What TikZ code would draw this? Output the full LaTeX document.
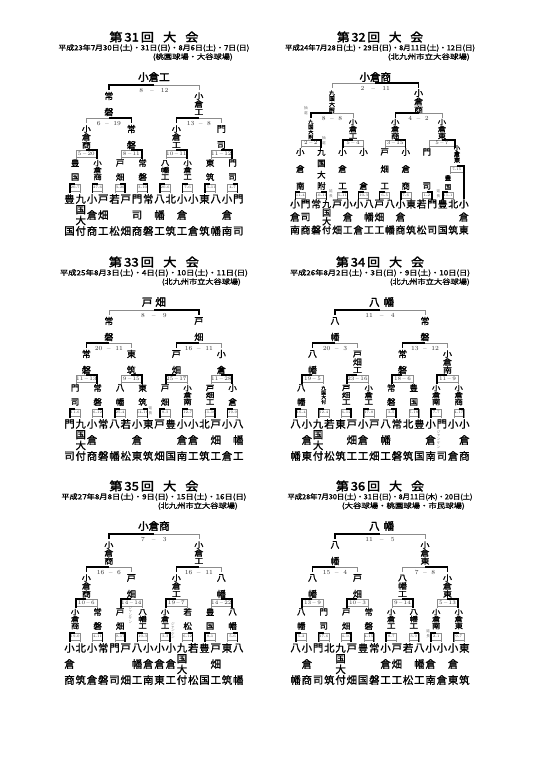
\documentclass[tikz,border=0pt]{standalone}
\usepackage{fontspec}
\usepackage{graphicx}
\newfontfamily\jp{Noto Sans CJK JP}
\newfontfamily\jpb{Noto Sans CJK JP}[FakeBold=1.2]
\newfontfamily\jpB{Noto Sans CJK JP}[FakeBold=2.4]
\newcommand\ScoF[2]{#1\hspace{7pt}--\hspace{7pt}#2}
\newcommand\ScoS[2]{#1\hspace{4.5pt}--\hspace{4.5pt}#2}
\newcommand\ScoQ[2]{#1\hspace{1.2pt}--\hspace{1.2pt}#2}
\newcommand\ScoR[2]{#1-#2}
\tikzset{
  lose/.style={draw=black!45,line width=0.45pt},
  win/.style={draw=black,line width=1.5pt},
  nmbase/.style={inner sep=0pt,text=black},
  nB/.style={nmbase,font=\jpb\fontsize{10.4}{10.4}\selectfont},
  nBs/.style={nmbase,font=\jpb\fontsize{9.8}{9.8}\selectfont},
  nM/.style={nmbase,font=\jpb\fontsize{9}{9}\selectfont},
  nS/.style={nmbase,font=\jpb\fontsize{8.4}{8.4}\selectfont},
  nX/.style={nmbase,font=\jpb\fontsize{6.4}{6.4}\selectfont},
  anno/.style={nmbase,text=black!55,font=\jp\fontsize{3.6}{3.6}\selectfont},
  scF/.style={inner sep=0pt,text=black!80,font=\fontsize{6.2}{6.2}\selectfont},
  scQ/.style={inner sep=0pt,text=black!80,font=\fontsize{5.3}{5.3}\selectfont},
  scR/.style={inner sep=0pt,text=black!75,font=\fontsize{3.6}{3.6}\selectfont},
  ttl/.style={inner sep=0pt,font=\jpB},
  champ/.style={inner sep=0pt,font=\jpB\fontsize{10.5}{10.5}\selectfont},
  info/.style={inner sep=0pt,font=\jpb},
}
\makeatletter
\newcommand\VNbox[1]{%
  \ifnum\VNn=4
    \pgfmathsetmacro\VNs{min(1,\VNsp/(\f@size*0.97))}\scalebox{\VNs}{#1}%
  \else\ifnum\VNn=3
    \pgfmathsetmacro\VNys{min(1,\VNsp/(\f@size*1.0))}\scalebox{1}[\VNys]{#1}%
  \else #1\fi\fi}
\makeatother
% vertical name: style, id, x, ytop, ybot, chars
\newcommand\VN[6]{%
  \edef\VNlist{#6}%
  \gdef\VNn{0}%
  \foreach \c in \VNlist {\xdef\VNn{\the\numexpr\VNn+1\relax}}%
  \pgfmathsetmacro\VNsp{(#5-#4)/max(\VNn-1,1)}%
  \foreach \c [count=\i from 0] in \VNlist {%
    \pgfmathsetmacro\VNy{#4+\VNsp*\i}%
    \node[#1] (#2-\i) at (#3,\VNy) {\VNbox{\c}};}}
% row of names: style, id, x0, dx, ytop, ybot, list
\newcommand\NRow[7]{%
  \edef\NRlist{#7}%
  \foreach \nmx [count=\k from 0] in \NRlist {%
    \pgfmathsetmacro\NRx{#3+#4*\k}%
    \VN{#1}{#2\k}{\NRx}{#5}{#6}{\nmx}}}
% score box: id, xc, ytop, w, h, score, side, style
\newcommand\BX[8]{%
  \pgfmathsetmacro\BXl{#2-#4/2}\pgfmathsetmacro\BXr{#2+#4/2}%
  \pgfmathsetmacro\BXb{#3+#5}\pgfmathsetmacro\BXg{#3+#5+1.6}%
  \draw[lose] (\BXl,\BXg) -- (\BXl,#3) -- (\BXr,#3) -- (\BXr,\BXg) (\BXl,\BXb) -- (\BXr,\BXb);
  \if#7L\draw[win] (\BXl,\BXg) -- (\BXl,#3) -- (#2,#3);\else\draw[win] (#2,#3) -- (\BXr,#3) -- (\BXr,\BXg);\fi
  \node[#8] (#1) at (#2,{#3+#5/2}) {#6};}
% open bracket: id, xL, xR, y, drop, score, side, style
\newcommand\BL[8]{%
  \pgfmathsetmacro\BLm{(#2+#3)/2}\pgfmathsetmacro\BLd{#4+#5}%
  \draw[lose] (#2,\BLd) -- (#2,#4) -- (#3,#4) -- (#3,\BLd);
  \if#7L\draw[win] (#2,\BLd) -- (#2,#4) -- (\BLm,#4);\else\draw[win] (\BLm,#4) -- (#3,#4) -- (#3,\BLd);\fi
  \node[#8] (#1) at (\BLm,{#4+5.5}) {#6};}
\newcommand\BRowR[7]{%
  \foreach \sa/\sb/\sw [count=\k from 0] in {#7}{%
    \pgfmathsetmacro\BRx{#2+#3*\k}%
    \BX{#1\k}{\BRx}{#4}{#5}{#6}{\ScoR{\sa}{\sb}}{\sw}{scR}}}
\newcommand\BRowQ[7]{%
  \foreach \sa/\sb/\sw [count=\k from 0] in {#7}{%
    \pgfmathsetmacro\BRx{#2+#3*\k}%
    \BX{#1\k}{\BRx}{#4}{#5}{#6}{\ScoQ{\sa}{\sb}}{\sw}{scQ}}}
\newcommand\AN[5]{\VN{anno}{#1}{#2}{#3}{#4}{#5}}
\newcommand\TT[1]{第\hspace{.15em}#1\hspace{.15em}回\hspace{.7em}大\hspace{.7em}会}

\begin{document}
\begin{tikzpicture}[x=1pt,y=-1pt]
\useasboundingbox (0,0) rectangle (538,760);
\fill[white] (0,0) rectangle (538,760);

%================ 31
\begin{scope}[shift={(69.5,37)}]
\node[ttl] (t31) at (84.4,0) {\resizebox{89pt}{10pt}{\TT{31}}};
\node[info] (d31) at (84.4,11) {\resizebox{191pt}{6pt}{平成23年7月30日(土)・31日(日)・8月6日(土)・7日(日)}};
\node[info,anchor=east] (u31) at (163.5,20) {\resizebox{80pt}{6pt}{(桃園球場・大谷球場)}};
\node[champ] (c31) at (84.4,40) {小倉工};
\BL{f31}{39.375}{129.375}{48}{5}{\ScoF{8}{12}}{L}{scF}
\VN{nM}{e31a}{39.375}{59}{75}{常,磐}
\VN{nM}{e31b}{129.375}{59}{75}{小,倉,工}
\BL{s31a}{16.875}{61.875}{81}{5}{\ScoS{6}{19}}{R}{scF}
\BL{s31b}{106.875}{151.875}{81}{5}{\ScoS{13}{8}}{L}{scF}
\NRow{nM}{h31}{16.875}{45}{92}{108}{{小,倉,商},{常,磐},{小,倉,工},{門,司}}
\BRowQ{q31}{16.875}{45}{113}{21}{7}{5/20/R,8/11/R,10/11/R,11/12/R}
\NRow{nS}{g31}{5.625}{22.5}{126}{140}{{豊,国},{小,倉,商},{戸,畑},{常,磐},{八,幡,工},{小,倉,工},{東,筑},{門,司}}
\BRowR{r31}{5.625}{22.5}{147}{10}{7}{20/7/L,27/6/L,3/20/R,3/10/R,20/6/L,7/6/L,15/11/L,4/7/R}
\NRow{nB}{k31}{0}{11.25}{162}{194}{{豊,国},{九,国,大,付},{小,倉,商},{戸,畑,工},{若,松},{戸,畑},{門,司,商},{常,磐},{八,幡,工},{北,筑},{小,倉,工},{小,倉},{東,筑},{八,幡},{小,倉,南},{門,司}}
\end{scope}

%================ 32
\begin{scope}[shift={(295,37)}]
\node[ttl] (t32) at (85,0) {\resizebox{86pt}{10pt}{\TT{32}}};
\node[info] (d32) at (85,11) {\resizebox{190pt}{6pt}{平成24年7月28日(土)・29日(日)・8月11日(土)・12日(日)}};
\node[info,anchor=east] (u32) at (175,20) {\resizebox{82pt}{6pt}{(北九州市立大谷球場)}};
\node[champ] (c32) at (80.3,40) {小倉商};
\BL{f32}{36.95}{123.6}{46}{5}{\ScoF{2}{11}}{R}{scF}
\VN{nM}{e32a}{36.95}{56}{73}{九,国,大,附}
\VN{nM}{e32b}{123.6}{56}{73}{小,倉,商}
\BL{s32a}{15.85}{58.05}{76}{5}{\ScoS{8}{8}}{L}{scF}
\BL{s32b}{100.25}{146.95}{76}{5}{\ScoS{4}{2}}{L}{scF}
\AN{a32a}{11}{71}{76.5}{抽,選}
\VN{nS}{h32a}{15.85}{85}{100}{九,国,大,附}
\VN{nS}{h32b}{58.05}{85}{99}{小,倉,工}
\VN{nS}{h32c}{100.25}{85}{99}{小,倉,商}
\VN{nS}{h32d}{146.95}{85}{99}{小,倉,東}
\BRowQ{q32}{15.85}{42.2}{103}{20}{6}{2/2/R,5/4/L,3/15/R}
\BX{q32d}{146.95}{103}{26}{6}{\ScoQ{5}{7}}{R}{scQ}
\AN{a32b}{29}{101}{106.5}{抽,選}
\NRow{nS}{g32}{5.275}{21.1}{115}{149}{{小,倉,南},{九,国,大,附},{小,倉,工},{小,倉},{戸,畑,工},{小,倉,商},{門,司}}
\VN{nX}{g32h}{162}{111}{123}{小,倉,東}
\BX{v32}{161.8}{129}{14}{6}{\ScoR{7}{15}}{R}{scR}
\draw[win] (168.8,136) -- (168.8,162);
\VN{nX}{g32i}{153}{141}{150}{豊,国}
\BRowR{r32}{5.275}{21.1}{155}{10}{6}{11/4/L,10/11/R,5/11/R,10/3/L,6/5/L,7/6/L,1/2/R,11/1/L}
\AN{a32c}{36}{154}{159.5}{延,長}
\AN{a32d}{143.5}{154}{159.5}{延,長}
\NRow{nBs}{k32}{0}{10.55}{167}{193}{{小,倉,南},{門,司,商},{常,磐},{九,国,大,付},{戸,畑},{小,倉,工},{小,倉},{八,幡,工},{戸,畑,工},{八,幡},{小,倉,商},{東,筑},{若,松},{門,司},{豊,国},{北,筑},{小,倉,東}}
\end{scope}

%================ 33
\begin{scope}[shift={(69.5,262)}]
\node[ttl] (t33) at (84.4,0) {\resizebox{90pt}{10pt}{\TT{33}}};
\node[info] (d33) at (84.4,11) {\resizebox{188pt}{6pt}{平成25年8月3日(土)・4日(日)・10日(土)・11日(日)}};
\node[info,anchor=east] (u33) at (171.5,20) {\resizebox{79pt}{6pt}{(北九州市立大谷球場)}};
\node[champ] (c33) at (84.4,40) {戸\hspace{3pt}畑};
\BL{f33}{39.375}{129.375}{48}{5}{\ScoF{8}{9}}{R}{scF}
\VN{nM}{e33a}{39.375}{59}{75}{常,磐}
\VN{nM}{e33b}{129.375}{59}{75}{戸,畑}
\BL{s33a}{16.875}{61.875}{81}{5}{\ScoS{20}{11}}{L}{scF}
\BL{s33b}{106.875}{151.875}{81}{5}{\ScoS{16}{11}}{L}{scF}
\NRow{nM}{h33}{16.875}{45}{92}{108}{{常,磐},{東,筑},{戸,畑},{小,倉}}
\BRowQ{q33}{16.875}{45}{113}{21}{7}{11/13/R,9/15/R,25/17/L,11/28/R}
\NRow{nS}{g33}{5.625}{22.5}{126}{140}{{門,司},{常,磐},{八,幡},{東,筑},{戸,畑},{小,倉,南},{戸,畑,工},{小,倉}}
\BRowR{r33}{5.625}{22.5}{147}{10}{7}{11/6/L,6/12/R,25/4/L,14/16/R,8/3/L,12/7/L,11/16/R,19/9/L}
\AN{a33}{81}{146}{151.5}{延,長}
\NRow{nB}{k33}{0}{11.25}{162}{194}{{門,司},{九,国,大,付},{小,倉,商},{常,磐},{八,幡},{若,松},{小,倉,東},{東,筑},{戸,畑},{豊,国},{小,倉,南},{小,倉,工},{北,筑},{戸,畑,工},{小,倉},{八,幡,工}}
\end{scope}

%================ 34
\begin{scope}[shift={(295.6,262)}]
\node[ttl] (t34) at (84.4,0) {\resizebox{88pt}{10pt}{\TT{34}}};
\node[info] (d34) at (84.4,11) {\resizebox{180pt}{6pt}{平成26年8月2日(土)・3日(日)・9日(土)・10日(日)}};
\node[info,anchor=east] (u34) at (174.4,20) {\resizebox{80pt}{6pt}{(北九州市立大谷球場)}};
\node[champ] (c34) at (86,40) {八\hspace{4pt}幡};
\BL{f34}{39.375}{129.375}{48}{5}{\ScoF{11}{4}}{L}{scF}
\VN{nM}{e34a}{39.375}{59}{75}{八,幡}
\VN{nM}{e34b}{129.375}{59}{75}{常,磐}
\BL{s34a}{16.875}{61.875}{81}{5}{\ScoS{20}{3}}{L}{scF}
\BL{s34b}{106.875}{151.875}{81}{5}{\ScoS{13}{12}}{L}{scF}
\NRow{nM}{h34}{16.875}{45}{92}{108}{{八,幡},{戸,畑,工},{常,磐},{小,倉,南}}
\BRowQ{q34}{16.875}{45}{113}{21}{7}{19/5/L,23/16/L,18/6/L,11/9/L}
\NRow{nS}{g34}{5.625}{22.5}{126}{140}{{八,幡},{九,国,大,付},{戸,畑,工},{小,倉,工},{常,磐},{豊,国},{小,倉,南},{小,倉,商}}
\BRowR{r34}{5.625}{22.5}{147}{10}{7}{16/4/L,12/4/L,6/12/R,17/8/L,3/5/R,7/18/R,7/7/L,4/17/R}
\AN{a34}{143}{170}{185}{ジ,ャ,ン,ケ,ン}
\NRow{nB}{k34}{0}{11.25}{162}{194}{{八,幡},{小,倉,東},{九,国,大,付},{若,松},{東,筑},{戸,畑,工},{小,倉,工},{戸,畑},{八,幡,工},{常,磐},{北,筑},{豊,国},{小,倉,南},{門,司},{小,倉},{小,倉,商}}
\end{scope}

%================ 35
\begin{scope}[shift={(69.5,486)}]
\node[ttl] (t35) at (84.4,0) {\resizebox{89pt}{10pt}{\TT{35}}};
\node[info] (d35) at (84.4,11) {\resizebox{185pt}{6pt}{平成27年8月8日(土)・9日(日)・15日(土)・16日(日)}};
\node[info,anchor=east] (u35) at (168.5,20) {\resizebox{80pt}{6pt}{(北九州市立大谷球場)}};
\node[champ] (c35) at (84.4,40) {小倉商};
\BL{f35}{39.375}{129.375}{48}{5}{\ScoF{7}{3}}{L}{scF}
\VN{nM}{e35a}{39.375}{59}{75}{小,倉,商}
\VN{nM}{e35b}{129.375}{59}{75}{小,倉,工}
\BL{s35a}{16.875}{61.875}{81}{5}{\ScoS{16}{6}}{L}{scF}
\BL{s35b}{106.875}{151.875}{81}{5}{\ScoS{16}{11}}{L}{scF}
\NRow{nM}{h35}{16.875}{45}{92}{108}{{小,倉,商},{戸,畑},{小,倉,工},{八,幡}}
\BRowQ{q35}{16.875}{45}{113}{21}{7}{10/6/L,14/14/L,19/7/L,14/22/R}
\AN{a35a}{61}{122}{136}{ジ,ャ,ン,ケ,ン}
\NRow{nS}{g35}{5.625}{22.5}{126}{140}{{小,倉,商},{常,磐},{戸,畑},{八,幡,工},{小,倉,工},{若,松},{豊,国},{八,幡}}
\BRowR{r35}{5.625}{22.5}{147}{10}{7}{19/0/L,4/11/R,9/17/R,10/3/L,3/3/R,6/12/R,8/1/L,5/6/R}
\AN{a35b}{103.5}{138}{151}{ジ,ャ,ン,ケ,ン}
\NRow{nB}{k35}{0}{11.25}{162}{194}{{小,倉,商},{北,筑},{小,倉},{常,磐},{門,司},{戸,畑},{八,幡,工},{小,倉,南},{小,倉,東},{小,倉,工},{九,国,大,付},{若,松},{豊,国},{戸,畑,工},{東,筑},{八,幡}}
\end{scope}

%================ 36
\begin{scope}[shift={(295.6,486)}]
\node[ttl] (t36) at (84.4,0) {\resizebox{88pt}{10pt}{\TT{36}}};
\node[info] (d36) at (84.4,11) {\resizebox{185pt}{6pt}{平成28年7月30日(土)・31日(日)・8月11日(木)・20日(土)}};
\node[info,anchor=east] (u36) at (169.4,20) {\resizebox{123pt}{6pt}{(大谷球場・桃園球場・市民球場)}};
\node[champ] (c36) at (86,40) {八\hspace{4pt}幡};
\BL{f36}{39.375}{129.375}{48}{5}{\ScoF{11}{5}}{L}{scF}
\VN{nM}{e36a}{39.375}{59}{75}{八,幡}
\VN{nM}{e36b}{129.375}{59}{75}{小,倉,東}
\BL{s36a}{16.875}{61.875}{81}{5}{\ScoS{15}{4}}{L}{scF}
\BL{s36b}{106.875}{151.875}{81}{5}{\ScoS{7}{8}}{R}{scF}
\NRow{nM}{h36}{16.875}{45}{92}{108}{{八,幡},{戸,畑},{八,幡,工},{小,倉,東}}
\BRowQ{q36}{16.875}{45}{113}{21}{7}{13/9/L,10/3/L,9/14/R,5/13/R}
\NRow{nS}{g36}{5.625}{22.5}{126}{140}{{八,幡},{門,司},{戸,畑},{常,磐},{小,倉,工},{八,幡,工},{小,倉,南},{小,倉,東}}
\BRowR{r36}{5.625}{22.5}{147}{10}{7}{5/2/L,17/6/L,4/10/R,4/15/R,8/7/L,3/9/R,2/1/L,9/7/L}
\AN{a36}{132.5}{145}{150.5}{延,長}
\NRow{nB}{k36}{0}{11.25}{162}{194}{{八,幡},{小,倉,商},{門,司},{北,筑},{九,国,大,付},{戸,畑},{豊,国},{常,磐},{小,倉,工},{戸,畑,工},{若,松},{八,幡,工},{小,倉,南},{小,倉},{小,倉,東},{東,筑}}
\end{scope}
\end{tikzpicture}
\end{document}
